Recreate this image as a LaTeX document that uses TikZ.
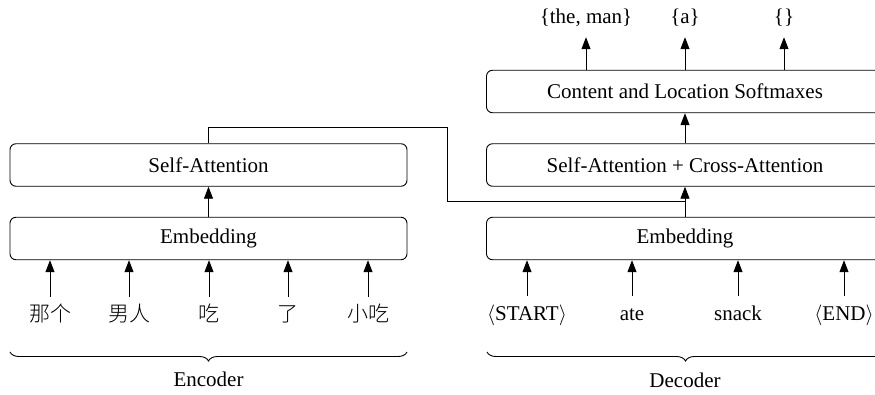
\documentclass[tikz,border=0pt]{standalone}
\usepackage{fontspec}
\setmainfont{Liberation Serif}
\newfontfamily\cjk{Noto Sans CJK SC Light}
\usetikzlibrary{arrows.meta,decorations.pathreplacing}
\begin{document}
\begin{tikzpicture}[x=1pt,y=-1pt,
  every node/.style={font=\fontsize{21}{25}\selectfont},
  blk/.style={draw,line width=0.9pt,rounded corners=6pt,minimum width=397pt,minimum height=42.5pt,inner sep=0pt},
  tok/.style={anchor=base,text height=14pt,text depth=4pt,inner sep=0pt,inner ysep=10pt},
  outl/.style={anchor=base,text height=14pt,text depth=5pt,inner sep=0pt,inner ysep=9pt},
  arr/.style={line width=0.9pt,-{Triangle[length=12pt,width=9pt]}},
  ln/.style={line width=0.9pt},
  brc/.style={line width=0.9pt,decorate,decoration={brace,amplitude=9pt}}]
\useasboundingbox (0,0) rectangle (875,394);
% encoder
\node[blk] (esa) at (208.5,165) {Self-Attention};
\node[blk] (eemb) at (208.5,238.5) {Embedding};
\node[tok] (e1) at (50,321) {\cjk 那个};
\node[tok] (e2) at (129,321) {\cjk 男人};
\node[tok] (e3) at (209,321) {\cjk 吃};
\node[tok] (e4) at (288,321) {\cjk 了};
\node[tok] (e5) at (368,321) {\cjk 小吃};
\foreach \t in {e1,e2,e3,e4,e5} \draw[arr] (\t.north) -- (\t.north |- eemb.south);
\draw[arr] (eemb.north) -- (esa.south);
% decoder
\node[blk] (dcl) at (685,91.5) {Content and Location Softmaxes};
\node[blk] (dsa) at (685,165) {Self-Attention + Cross-Attention};
\node[blk] (demb) at (685,238.5) {Embedding};
\node[tok] (d1) at (527,320) {$\langle$START$\rangle$};
\node[tok] (d2) at (632,320) {ate};
\node[tok] (d3) at (738,320) {snack};
\node[tok] (d4) at (844,320) {$\langle$END$\rangle$};
\foreach \t in {d1,d2,d3,d4} \draw[arr] (\t.north) -- (\t.north |- demb.south);
\draw[arr] (demb.north) -- (dsa.south);
\draw[arr] (dsa.north) -- (dcl.south);
\node[outl] (o1) at (586,23) {\{the, man\}};
\node[outl] (o2) at (685,23) {\{a\}};
\node[outl] (o3) at (784,23) {\{\}};
\foreach \t in {o1,o2,o3} \draw[arr] (\t.south |- dcl.north) -- (\t.south);
% cross connection
\coordinate (j1) at (447,127);
\coordinate (j2) at (447,201);
\draw[ln] (esa.north) |- (j1) -- (j2) -- (dsa.south |- j2);
% braces
\coordinate (b1) at (407,352);
\coordinate (b2) at (10,352);
\coordinate (b3) at (884,352);
\coordinate (b4) at (487,352);
\draw[brc] (b1) -- (b2);
\draw[brc] (b3) -- (b4);
\node (enc) at (208.5,379) {Encoder};
\node (dec) at (685,380) {Decoder};
\end{tikzpicture}
\end{document}
